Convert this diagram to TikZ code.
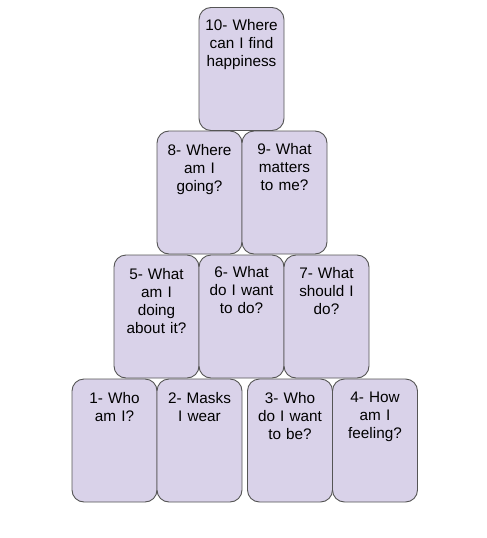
\documentclass[tikz,border=0pt]{standalone}
\usepackage{fontspec}
\setmainfont{Liberation Sans}
\definecolor{cardfill}{HTML}{D9D2E9}
\definecolor{cardline}{HTML}{555555}
\begin{document}
\begin{tikzpicture}[x=1pt,y=-1pt,
  card/.style={draw=cardline, fill=cardfill, line width=0.9pt, rounded corners=12pt,
    minimum width=85pt, minimum height=123pt, inner sep=0pt, outer sep=0pt, anchor=north west},
  txt/.style={anchor=north, inner sep=0pt, text width=84pt, align=center,
    font=\fontsize{15.3pt}{18pt}\selectfont}]
\useasboundingbox (0,0) rectangle (487,538);
% row 1
\node[card] (b10) at (199,7.5) {};
% row 2
\node[card] (b8) at (157,131) {};
\node[card] (b9) at (242,131) {};
% row 3
\node[card] (b5) at (114,255) {};
\node[card] (b6) at (199,255) {};
\node[card] (b7) at (284,255) {};
% row 4
\node[card] (b1) at (72,379) {};
\node[card] (b2) at (157,379) {};
\node[card] (b3) at (247.5,379) {};
\node[card] (b4) at (332.5,379) {};
% texts
\node[txt] (t10) at ([yshift=-12pt]b10.north) {10- Where\\can I find\\happiness};
\node[txt] (t8) at ([yshift=-13pt]b8.north) {8- Where\\am I\\going?};
\node[txt] (t9) at ([yshift=-12pt]b9.north) {9- What\\matters\\to me?};
\node[txt] (t5) at ([yshift=-13pt]b5.north) {5- What\\am I\\doing\\about it?};
\node[txt] (t6) at ([yshift=-11pt]b6.north) {6- What\\do I want\\to do?};
\node[txt] (t7) at ([yshift=-12pt]b7.north) {7- What\\should I\\do?};
\node[txt] (t1) at ([yshift=-13pt]b1.north) {1- Who\\am I?};
\node[txt] (t2) at ([yshift=-13pt]b2.north) {2- Masks\\I wear};
\node[txt] (t3) at ([yshift=-13pt]b3.north) {3- Who\\do I want\\to be?};
\node[txt] (t4) at ([yshift=-13pt]b4.north) {4- How\\am I\\feeling?};
\end{tikzpicture}
\end{document}
